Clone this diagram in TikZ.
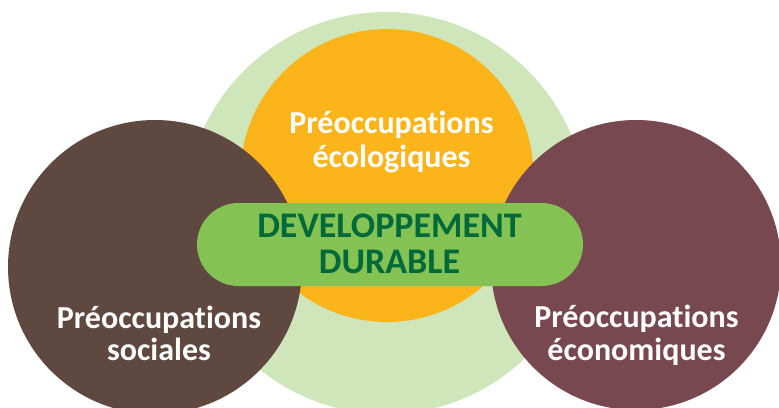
\documentclass[tikz,border=0pt]{standalone}
\usepackage{fontspec}
\setmainfont[Ligatures=NoCommon]{Carlito}
\definecolor{ringgreen}{HTML}{CFE5BA}
\definecolor{ecoorange}{HTML}{FBB41A}
\definecolor{socbrown}{HTML}{5F4840}
\definecolor{ecomaroon}{HTML}{784850}
\definecolor{pillgreen}{HTML}{84C253}
\definecolor{textgreen}{HTML}{00693A}
\tikzset{
  disc/.style={fill=#1, draw=none},
  whitelabel/.style={text=white, font=\bfseries\fontsize{32}{34}\selectfont, anchor=base, inner sep=0pt},
  greenlabel/.style={text=textgreen, font=\bfseries\fontsize{36}{36}\selectfont, anchor=base, inner sep=0pt},
  pill/.style={fill=pillgreen, draw=none, rounded corners=41.5pt, minimum width=386pt, minimum height=83pt, inner sep=0pt}
}
\begin{document}
\begin{tikzpicture}[x=1pt, y=-1pt]
\useasboundingbox (0,0) rectangle (779,407);
\clip (0,0) rectangle (779,407);
% circles
\fill[disc=ringgreen] (386,213) circle[radius=201pt];
\fill[disc=ecoorange] (387,175.5) circle[radius=146.5pt];
\fill[disc=socbrown] (155,267) circle[radius=147pt];
\fill[disc=ecomaroon] (636,265) circle[radius=145pt];
% central pill
\node[pill] (dd) at (390,244.5) {};
% labels
\node[greenlabel] (dd1) at (389.5,237) {DEVELOPPEMENT};
\node[greenlabel] (dd2) at (389.5,273) {DURABLE};
\node[whitelabel] (eco1) at (391.5,133) {Préoccupations};
\node[whitelabel] (eco2) at (391.5,167) {écologiques};
\node[whitelabel] (soc1) at (159,328) {Préoccupations};
\node[whitelabel] (soc2) at (159,360) {sociales};
\node[whitelabel] (ecn1) at (636.5,327) {Préoccupations};
\node[whitelabel] (ecn2) at (636.5,360) {économiques};
\end{tikzpicture}
\end{document}
